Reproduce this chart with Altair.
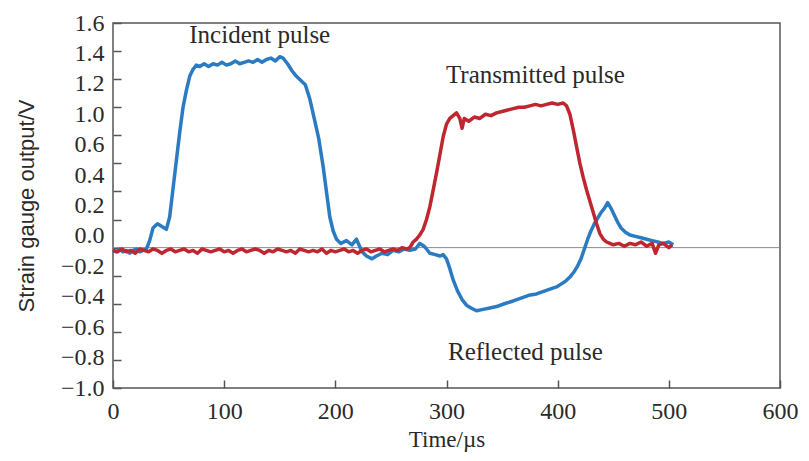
import altair as alt
import pandas as pd

# ---- data ----
# Blue trace: incident pulse followed by reflected pulse (time in µs, output in V)
blue_t = [0, 3, 6, 9, 12, 15, 18, 21, 24, 27, 30, 33, 36, 40, 44, 48, 51, 54, 57, 60,
          63, 66, 69, 72, 75, 78, 82, 86, 90, 94, 98, 102, 106, 110, 114, 118, 122, 126,
          130, 134, 138, 142, 146, 150, 153, 157, 161, 165, 169, 173, 177, 181, 185, 189,
          192, 195, 198, 201, 205, 210, 215, 219, 224, 228, 233, 237, 242, 247, 252, 257,
          262, 267, 272, 276, 280, 285, 290, 294, 297, 300, 303, 306, 310, 314, 318, 322,
          327, 333, 339, 345, 352, 360, 367, 374, 381, 388, 395, 399, 403, 407, 411, 415,
          418, 421, 424, 427, 430, 433, 436, 439, 442, 445, 448, 451, 454, 457, 461, 465,
          470, 475, 480, 485, 490, 495, 500, 504]
blue_v = [-0.02, -0.03, -0.01, -0.03, -0.02, -0.04, -0.02, -0.01, -0.03, -0.02, -0.01,
          0.05, 0.14, 0.17, 0.15, 0.13, 0.22, 0.42, 0.62, 0.82,
          1.00, 1.12, 1.22, 1.27, 1.30, 1.29, 1.31, 1.29, 1.31, 1.30, 1.32, 1.30, 1.31,
          1.33, 1.31, 1.32, 1.33, 1.32, 1.34, 1.32, 1.34, 1.35, 1.33, 1.36, 1.35, 1.31,
          1.26, 1.22, 1.19, 1.16, 1.06, 0.92, 0.78, 0.58,
          0.40, 0.22, 0.12, 0.06, 0.03, 0.05, 0.02, 0.06, -0.03, -0.06, -0.08, -0.06,
          -0.04, -0.05, -0.02, -0.03, -0.01, -0.02, -0.01, 0.03, 0.01, -0.04, -0.05,
          -0.06, -0.05, -0.08, -0.15, -0.23, -0.31, -0.37, -0.41, -0.43,
          -0.45, -0.44, -0.43, -0.42, -0.40, -0.38, -0.36, -0.34, -0.33, -0.31, -0.29,
          -0.28, -0.26, -0.24, -0.21, -0.17,
          -0.13, -0.08, -0.01, 0.06, 0.12, 0.17, 0.21, 0.25, 0.28, 0.32, 0.28, 0.23,
          0.18, 0.14, 0.11, 0.09,
          0.08, 0.07, 0.06, 0.05, 0.04, 0.03, 0.04, 0.02]

# Red trace: transmitted pulse
red_t = [0, 4, 8, 12, 16, 20, 24, 28, 32, 36, 40, 44, 48, 52, 56, 60, 64, 68, 72, 76,
         80, 84, 88, 92, 96, 100, 104, 108, 112, 116, 120, 124, 128, 132, 136, 140, 144,
         148, 152, 156, 160, 164, 168, 172, 176, 180, 184, 188, 192, 196, 200, 204, 208,
         212, 216, 220, 224, 228, 232, 236, 240, 244, 248, 252, 256, 260, 264,
         267, 270, 273, 276, 279, 282, 285, 288, 291, 294, 297, 300, 303, 306, 309, 312,
         314, 316, 320, 325, 330, 335, 340, 345, 350, 355, 360, 365, 370, 375, 380, 385,
         390, 395, 400, 405, 408, 411, 414, 417, 420, 423, 426, 429, 432, 435, 438, 441,
         444, 447, 450, 455, 460, 465, 470, 475, 480, 485, 488, 491, 495, 500, 503]
red_v = [-0.02, -0.03, -0.01, -0.03, -0.02, -0.04, -0.01, -0.02, -0.03, -0.01,
         -0.02, -0.04, -0.02, -0.01, -0.03, -0.02, -0.01, -0.03, -0.02, -0.04,
         -0.01, -0.02, -0.03, -0.02, -0.01, -0.03, -0.02, -0.04, -0.02, -0.01,
         -0.03, -0.02, -0.01, -0.02, -0.04, -0.02, -0.03, -0.01, -0.02, -0.03,
         -0.02, -0.04, -0.01, -0.02, -0.03, -0.02, -0.03, -0.01, -0.04, -0.02,
         -0.03, -0.02, -0.01, -0.03, -0.02, -0.04, -0.02, -0.01, -0.03, -0.02,
         -0.01, -0.03, -0.02, -0.01, -0.02, 0.00, -0.01,
         0.00, 0.04, 0.06, 0.09, 0.13, 0.20, 0.29, 0.41, 0.53, 0.66, 0.79, 0.88, 0.92,
         0.94, 0.96, 0.92, 0.85, 0.92, 0.90, 0.93, 0.92, 0.95, 0.94, 0.96, 0.97, 0.98,
         0.99, 1.00, 1.00, 1.01, 1.02, 1.01, 1.02, 1.03, 1.02, 1.03, 1.01, 0.95, 0.84,
         0.72, 0.60, 0.50, 0.41, 0.33, 0.25, 0.17, 0.10, 0.06, 0.04, 0.03, 0.02, 0.03,
         0.01, 0.03, 0.02, 0.04, 0.01, 0.03, -0.04, 0.02, 0.03, 0.00, 0.02]

series_names = ["Incident / reflected", "Transmitted"]
series_colors = ["#2b7bc2", "#be2630"]

annotation_text = ["Incident pulse", "Transmitted pulse", "Reflected pulse"]
annotation_t = [132, 380, 371]
annotation_v = [1.46, 1.17, -0.80]

x_ticks = [0, 100, 200, 300, 400, 500, 600]
y_ticks = [1.6, 1.4, 1.2, 1.0, 0.8, 0.6, 0.4, 0.2, 0.0, -0.2, -0.4, -0.6, -0.8, -1.0]
zero_level = [0.0]

# ---- build tables ----
lines_df = pd.concat([
    pd.DataFrame({"t": blue_t, "v": blue_v, "s": series_names[0]}),
    pd.DataFrame({"t": red_t, "v": red_v, "s": series_names[1]}),
], ignore_index=True)
ann_df = pd.DataFrame({"text": annotation_text, "t": annotation_t, "v": annotation_v})
zero_df = pd.DataFrame({"v": zero_level})

FRAME = "#555555"
TEXT = "#2a2a2a"
SERIF = "Liberation Serif"

x_scale = alt.Scale(domain=[0, 600], nice=False, zero=False)
y_scale = alt.Scale(domain=[-1.0, 1.6], nice=False, zero=False)

x_axis = alt.Axis(
    values=x_ticks, tickCount=20, format="d", grid=False, domain=False,
    labelOverlap=False, labelFlush=False,
    tickSize={"expr": "-8"}, tickColor=FRAME, tickWidth=1.5,
    labelFont=SERIF, labelFontSize=24, labelColor=TEXT, labelPadding=19,
    title="Time/µs", titleFont=SERIF, titleFontSize=23, titleFontWeight="normal",
    titleColor=TEXT, titlePadding=5,
)
y_axis = alt.Axis(
    values=y_ticks, tickCount=20, grid=False, domain=False,
    labelOverlap=False, labelFlush=False,
    tickSize={"expr": "-8"}, tickColor=FRAME, tickWidth=1.5,
    labelFont=SERIF, labelFontSize=24, labelColor=TEXT, labelPadding=17,
    labelExpr=("abs(datum.value - 0.8) < 0.001 ? '' : "
               "(datum.value < -0.001 ? '\u2212' + format(-datum.value, '.1f') "
               ": format(abs(datum.value), '.1f'))"),
    labelOffset={"expr": "round((1.6 - datum.value) / 0.2) <= 3 ? "
                         "round((1.6 - datum.value) / 0.2) * 2.34 : "
                         "round((1.6 - datum.value) / 0.2) * 2.34 - 30.4"},
    title="Strain gauge output/V", titleFont="Liberation Sans", titleFontSize=22,
    titleFontWeight="normal", titleColor=TEXT, titlePadding=22,
)

zero_line = alt.Chart(zero_df).mark_rule(color="#8c8c8c", strokeWidth=1).encode(
    y=alt.Y("v:Q", scale=y_scale, axis=y_axis)
)

lines = alt.Chart(lines_df).mark_line(strokeWidth=3.5, strokeJoin="round").encode(
    x=alt.X("t:Q", scale=x_scale, axis=x_axis),
    y=alt.Y("v:Q", scale=y_scale, axis=y_axis),
    color=alt.Color("s:N", scale=alt.Scale(domain=series_names, range=series_colors),
                    legend=None),
    order=alt.Order("t:Q"),
)

labels = alt.Chart(ann_df).mark_text(
    font=SERIF, fontSize=25, color=TEXT, align="center", baseline="alphabetic"
).encode(
    x=alt.X("t:Q", scale=x_scale),
    y=alt.Y("v:Q", scale=y_scale),
    text="text:N",
)

chart = alt.layer(zero_line, lines, labels).properties(
    width=667, height=365,
    autosize=alt.AutoSizeParams(type="none"),
    padding={"left": 105, "top": 15, "right": 21, "bottom": 65},
    background="white",
).configure_view(stroke=FRAME, strokeWidth=1.5)

chart.save("out.html", embed_options={"renderer": "svg", "actions": False})
